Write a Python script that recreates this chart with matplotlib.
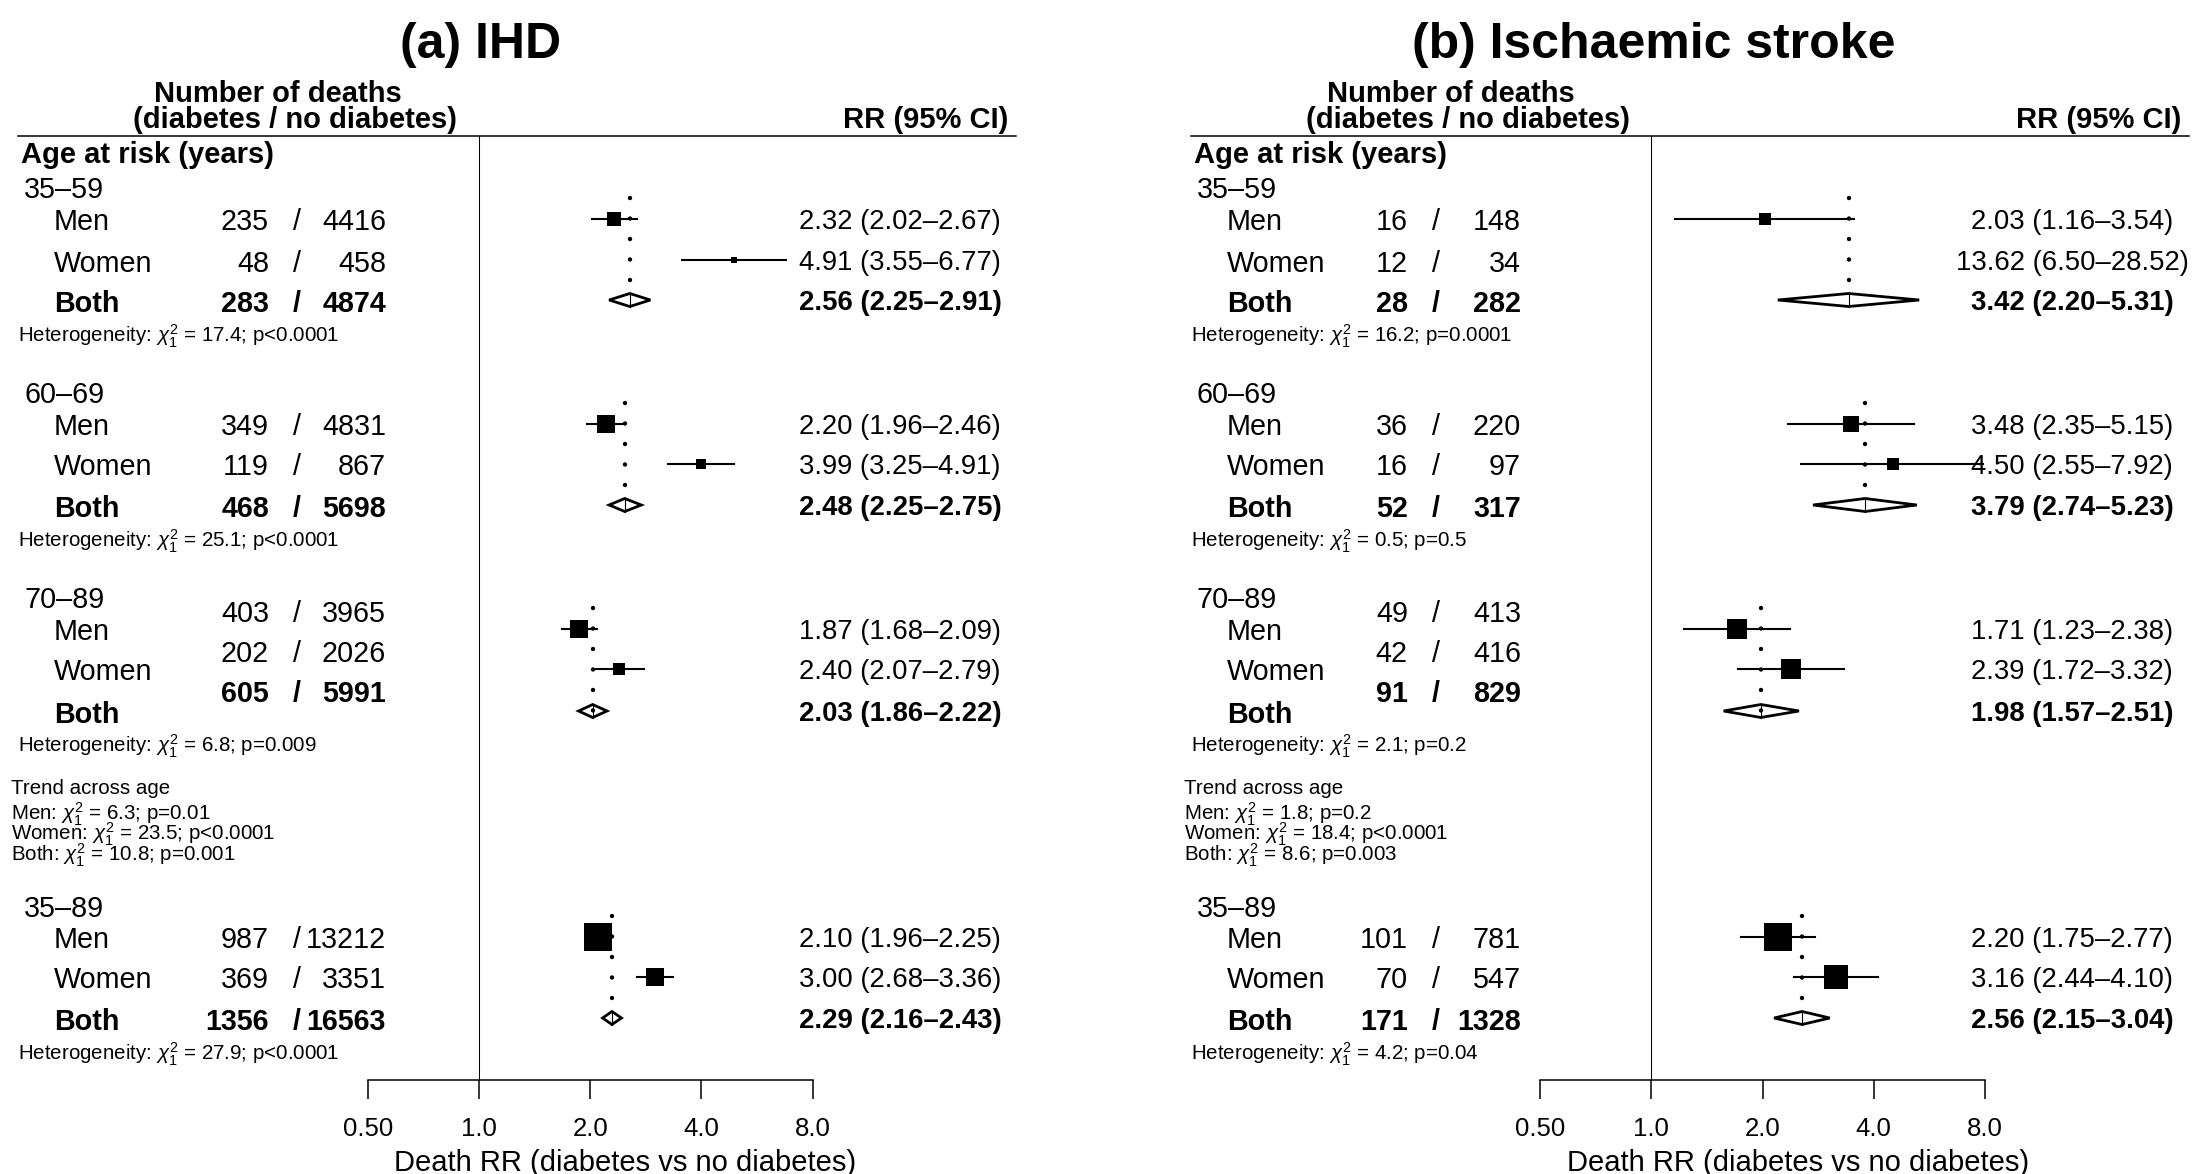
import numpy as np
import matplotlib
matplotlib.use('Agg')
import matplotlib.pyplot as plt
from matplotlib.patches import Polygon
from matplotlib.ticker import NullLocator

plt.rcParams['font.family'] = ['Liberation Sans', 'DejaVu Sans']
plt.rcParams['mathtext.fontset'] = 'custom'
plt.rcParams['mathtext.rm'] = 'Liberation Sans'
plt.rcParams['mathtext.it'] = 'Liberation Sans:italic'
plt.rcParams['mathtext.bf'] = 'Liberation Sans:bold'

W, H = 2199, 1174

"""..........data read off the two forest plots.........."""

age_groups = ['35–59', '60–69', '70–89', '35–89']
sexes = ['Men', 'Women', 'Both']
ticks = [0.5, 1, 2, 4, 8]
tick_labels = ['0.50', '1.0', '2.0', '4.0', '8.0']

# (a) IHD
ihd_dm = [[235, 48, 283], [349, 119, 468], [403, 202, 605], [987, 369, 1356]]
ihd_nodm = [[4416, 458, 4874], [4831, 867, 5698], [3965, 2026, 5991], [13212, 3351, 16563]]
ihd_rr = [[2.32, 4.91, 2.56], [2.20, 3.99, 2.48], [1.87, 2.40, 2.03], [2.10, 3.00, 2.29]]
ihd_lo = [[2.02, 3.55, 2.25], [1.96, 3.25, 2.25], [1.68, 2.07, 1.86], [1.96, 2.68, 2.16]]
ihd_hi = [[2.67, 6.77, 2.91], [2.46, 4.91, 2.75], [2.09, 2.79, 2.22], [2.25, 3.36, 2.43]]
ihd_het = ['17.4; p<0.0001', '25.1; p<0.0001', '6.8; p=0.009', '27.9; p<0.0001']
ihd_trend = ['6.3; p=0.01', '23.5; p<0.0001', '10.8; p=0.001']

# (b) Ischaemic stroke
isc_dm = [[16, 12, 28], [36, 16, 52], [49, 42, 91], [101, 70, 171]]
isc_nodm = [[148, 34, 282], [220, 97, 317], [413, 416, 829], [781, 547, 1328]]
isc_rr = [[2.03, 13.62, 3.42], [3.48, 4.50, 3.79], [1.71, 2.39, 1.98], [2.20, 3.16, 2.56]]
isc_lo = [[1.16, 6.50, 2.20], [2.35, 2.55, 2.74], [1.23, 1.72, 1.57], [1.75, 2.44, 2.15]]
isc_hi = [[3.54, 28.52, 5.31], [5.15, 7.92, 5.23], [2.38, 3.32, 2.51], [2.77, 4.10, 3.04]]
isc_het = ['16.2; p=0.0001', '0.5; p=0.5', '2.1; p=0.2', '4.2; p=0.04']
isc_trend = ['1.8; p=0.2', '18.4; p<0.0001', '8.6; p=0.003']

"""..........layout (pixels from top left).........."""

TITLE, HEAD, BODY, RRSZ, SMALL, TICK, XLAB = 36, 21, 20.7, 19.8, 14.8, 18.5, 21

group_y = [188, 393, 598, 907]
label_y = [[220, 262, 302], [425, 465, 507], [630, 670, 713], [938, 978, 1020]]
count_y = [[220, 262, 302], [425, 465, 507], [612, 652, 692], [938, 978, 1020]]
est_y = [[219, 260, 300], [424, 464, 505], [629, 669, 711], [937, 977, 1018]]
het_y = [335, 540, 745, 1053]
trend_y = [787, 813, 833, 854]
axis_top, axis_bottom = 136, 1080


def px(pt):
    return pt * 100 / 72.


fig = plt.figure(figsize=(W / 100, H / 100), dpi=100)
tx = fig.add_axes([0, 0, 1, 1])
tx.set_xlim(0, W)
tx.set_ylim(H, 0)
tx.axis('off')
tx.patch.set_visible(False)


def put(x, y, s, size, weight='normal', ha='left'):
    # y = centre of the capitals
    tx.text(x, y + 0.358 * px(size), s, fontsize=size, fontweight=weight,
            ha=ha, va='baseline', color='black')


def panel(title, off, ax0, ax1, cols, dm, nodm, rr, lo, hi, het, trend):
    n1_x, sl_x, n2_x, rr_x = cols
    put(off + 481, 40, title, TITLE, 'bold', 'center')
    put(off + 278, 92, 'Number of deaths', HEAD, 'bold', 'center')
    put(off + 295, 118, '(diabetes / no diabetes)', HEAD, 'bold', 'center')
    put(off + 1008, 118, 'RR (95% CI)', HEAD, 'bold', 'right')
    tx.plot([off + 17.5, off + 1016], [axis_top, axis_top], color='black', lw=1.1)
    put(off + 21, 153, 'Age at risk (years)', HEAD, 'bold')

    for g in range(4):
        put(off + 24, group_y[g], age_groups[g], BODY)
        for k in range(3):
            wt = 'bold' if k == 2 else 'normal'
            put(off + 54, label_y[g][k], sexes[k], BODY, wt)
            put(n1_x, count_y[g][k], str(dm[g][k]), BODY, wt, 'right')
            put(sl_x, count_y[g][k], '/', BODY, wt, 'center')
            put(n2_x, count_y[g][k], str(nodm[g][k]), BODY, wt, 'right')
            txt = '%.2f (%.2f–%.2f)' % (rr[g][k], lo[g][k], hi[g][k])
            put(rr_x, est_y[g][k], txt, RRSZ, wt, 'center')
        put(off + 18, het_y[g], r'Heterogeneity: $\chi_1^2$ = ' + het[g], SMALL)

    put(off + 11, trend_y[0], 'Trend across age', SMALL)
    for k in range(3):
        put(off + 11, trend_y[k + 1], sexes[k] + r': $\chi_1^2$ = ' + trend[k], SMALL)

    # forest part
    ax = fig.add_axes([ax0 / W, (H - axis_bottom) / H, (ax1 - ax0) / W,
                       (axis_bottom - axis_top) / H])
    ax.set_xscale('log', base=2)
    ax.set_xlim(0.5, 8)
    ax.set_ylim(axis_bottom, axis_top)
    ax.patch.set_visible(False)
    for s in ['top', 'right', 'left']:
        ax.spines[s].set_visible(False)
    ax.spines['bottom'].set_linewidth(1.1)
    ax.set_yticks([])
    ax.set_xticks(ticks)
    ax.set_xticklabels(tick_labels)
    ax.xaxis.set_minor_locator(NullLocator())
    ax.tick_params(axis='x', direction='out', length=13.7, width=1.1, pad=13,
                   labelsize=TICK)
    ax.set_xlabel('Death RR (diabetes vs no diabetes)', fontsize=XLAB)
    ax.xaxis.set_label_coords(0.579, -0.0735)
    ax.axvline(1, color='black', lw=0.75)

    rr_a, lo_a, hi_a = np.array(rr), np.array(lo), np.array(hi)
    w = 3.92 / (np.log(hi_a) - np.log(lo_a))
    k_px = 28.0 / w[:, :2].max()

    for g in range(4):
        yb = est_y[g][2]
        ax.plot([rr_a[g, 2]] * 2, [est_y[g][0] - 21, yb], color='black', lw=3.2,
                dashes=(0.01, 4.6), dash_capstyle='round')
        for k in range(2):
            if rr_a[g, k] > 8:
                continue
            y = est_y[g][k]
            ax.plot([lo_a[g, k], hi_a[g, k]], [y, y], color='black', lw=1.5)
            side = k_px * w[g, k] * 0.72
            ax.scatter([rr_a[g, k]], [y], s=side ** 2, marker='s', color='black',
                       linewidths=0, zorder=3)
        d = Polygon([(lo_a[g, 2], yb), (rr_a[g, 2], yb - 6.5), (hi_a[g, 2], yb),
                     (rr_a[g, 2], yb + 6.5)], closed=True, fill=False,
                    edgecolor='black', lw=2.0)
        ax.add_patch(d)
        ax.plot([rr_a[g, 2]] * 2, [yb - 6.5, yb + 6.5], color='black', lw=0.8)


panel('(a) IHD', 0, 368, 812.5, (269, 297, 386, 900),
      ihd_dm, ihd_nodm, ihd_rr, ihd_lo, ihd_hi, ihd_het, ihd_trend)
panel('(b) Ischaemic stroke', 1173, 1540, 1985, (1408, 1436, 1521, 2072),
      isc_dm, isc_nodm, isc_rr, isc_lo, isc_hi, isc_het, isc_trend)

plt.savefig('out.png', dpi=100)
